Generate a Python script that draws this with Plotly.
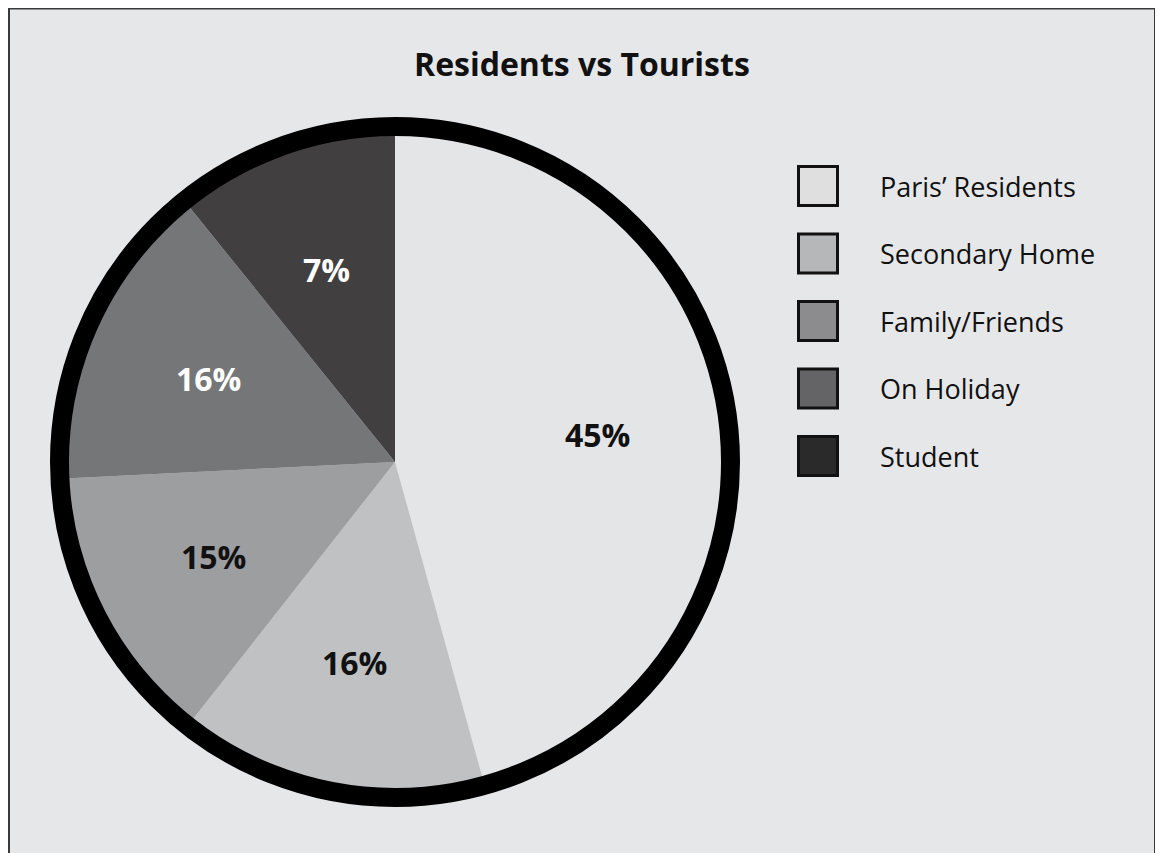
import math
import plotly.graph_objects as go

W, H = 1163, 853

# ---- data ----
categories = ["Paris’ Residents", "Secondary Home", "Family/Friends", "On Holiday", "Student"]
slice_share = [45.7, 14.9, 13.6, 15.0, 10.8]      # drawn slice sizes (read from the wedges)
label_text = ["45%", "16%", "15%", "16%", "7%"]   # printed labels
slice_colors = ["#e4e5e6", "#c0c1c3", "#9d9ea0", "#757678", "#423f41"]
legend_colors = ["#dfdfe0", "#b5b7b9", "#8c8c8e", "#646466", "#2a2a2a"]
label_colors = ["#111111", "#111111", "#111111", "#ffffff", "#ffffff"]
title_text = "Residents vs Tourists"

BG = "#e6e7e8"

def px(x):
    return x / W

def py(y):
    return 1 - y / H

cx, cy, r = 387, 454, 335.5

fig = go.Figure()
fig.add_trace(go.Pie(
    labels=categories,
    values=slice_share,
    text=label_text,
    textinfo="none",
    marker=dict(colors=slice_colors, line=dict(width=0)),
    sort=False,
    direction="clockwise",
    rotation=0,
    showlegend=False,
    hoverinfo="label+text",
    domain=dict(x=[px(cx - r), px(cx + r)], y=[py(cy + r), py(cy - r)]),
))

shapes = []
# frame
shapes.append(dict(type="rect", xref="paper", yref="paper",
                   x0=px(1), x1=px(1147), y0=-0.05, y1=py(0.5),
                   fillcolor=BG, line=dict(color="#3a3a3a", width=2), layer="below"))
# ring
shapes.append(dict(type="circle", xref="paper", yref="paper",
                   x0=px(cx - r), x1=px(cx + r), y0=py(cy + r), y1=py(cy - r),
                   line=dict(color="black", width=19), layer="above"))

annotations = [dict(text="<b>" + title_text + "</b>", x=px(574), y=py(55), xref="paper", yref="paper",
                    showarrow=False, xanchor="center", yanchor="middle",
                    font=dict(family="Open Sans", size=32, color="#111111"))]

# slice labels placed at each wedge's mid-angle (derived from the data)
total = sum(slice_share)
r_lab = 0.61 * r
acc = 0.0
for share, txt, col in zip(slice_share, label_text, label_colors):
    mid = (acc + share / 2) / total * 2 * math.pi
    acc += share
    lx = cx + r_lab * math.sin(mid)
    ly = cy - r_lab * math.cos(mid)
    annotations.append(dict(text="<b>" + txt + "</b>", x=px(lx), y=py(ly), xref="paper", yref="paper",
                            showarrow=False, xanchor="center", yanchor="middle",
                            font=dict(family="Open Sans", size=32, color=col)))

# legend (custom, large swatches)
leg_y0, leg_dy = 178, 67.5
for i, (name, col) in enumerate(zip(categories, legend_colors)):
    yc = leg_y0 + i * leg_dy
    shapes.append(dict(type="rect", xref="paper", yref="paper",
                       x0=px(790.5), x1=px(829.5), y0=py(yc + 19.5), y1=py(yc - 19.5),
                       fillcolor=col, line=dict(color="#111111", width=3), layer="above"))
    annotations.append(dict(text=name, x=px(870), y=py(yc), xref="paper", yref="paper",
                            showarrow=False, xanchor="left", yanchor="middle",
                            font=dict(family="Open Sans", size=27, color="#111111")))

fig.update_layout(
    width=W, height=H,
    margin=dict(l=0, r=0, t=0, b=0),
    paper_bgcolor="white",
    plot_bgcolor="white",
    shapes=shapes,
    annotations=annotations,
)

fig.write_html("out.html")
